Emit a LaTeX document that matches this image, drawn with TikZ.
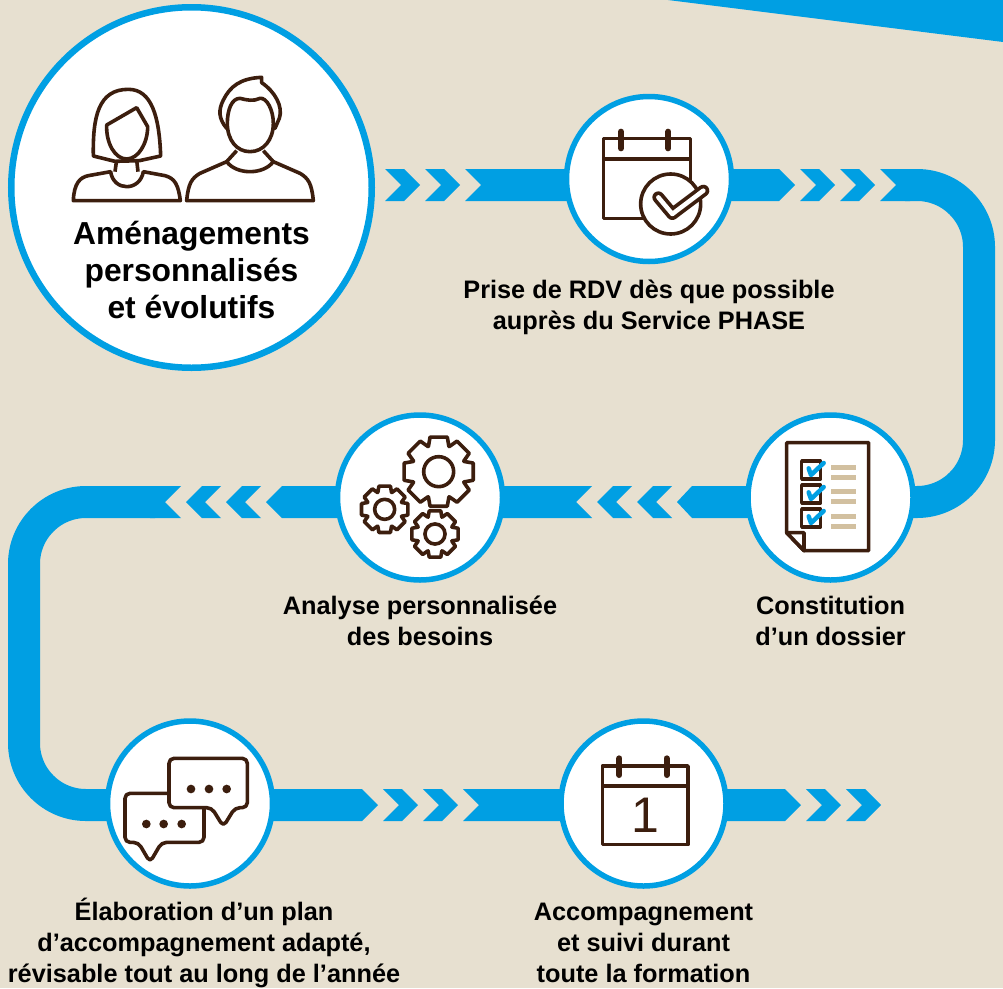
\documentclass[tikz,border=0pt]{standalone}
\usepackage{fontspec}
\setmainfont{Liberation Sans}
\usetikzlibrary{positioning, backgrounds}
\definecolor{paperColor}{RGB}{231, 224, 208}
\definecolor{bandBlue}{RGB}{0, 159, 227}
\definecolor{iconBrown}{RGB}{60, 30, 14}
\definecolor{barTan}{RGB}{210, 192, 160}
\tikzset{
  stepcircle/.style={circle, draw=bandBlue, fill=white, line width=5.5pt, inner sep=0pt, minimum size=165pt},
  steplabel/.style={font=\fontsize{25.3}{31}\selectfont\bfseries, text=black, align=center, inner sep=0pt},
  bandfill/.style={fill=bandBlue, draw=none},
  bandline/.style={draw=bandBlue, line width=32pt, rounded corners=62pt},
  iconline/.style={draw=iconBrown, line width=3.6pt, line join=round, fill=white},
  ringline/.style={draw=iconBrown, line width=6pt, line cap=round},
  chevron/.pic={\fill[bandfill] (0,-16) -- (19,-16) -- (35,0) -- (19,16) -- (0,16) -- (16,0) -- cycle;},
  gearwheel/.pic={
    \draw[iconline] (-22:82) \foreach \ang in {0,45,...,315} { -- (\ang-22:82) -- (\ang-14:107) -- (\ang+14:107) -- (\ang+22:82) } -- cycle;
    \draw[iconline] (0,0) circle (45);
  }
}
\begin{document}
\begin{tikzpicture}[x=1pt, y=-1pt]
\useasboundingbox (0,0) rectangle (1003,988);
% Nodes
\node[stepcircle, line width=6.5pt, minimum size=360.5pt] (main) at (191.5,187.5) {};
\node[stepcircle] (rdv) at (649,179) {};
\node[stepcircle] (dossier) at (830.5,497.5) {};
\node[stepcircle] (analyse) at (420,497.5) {};
\node[stepcircle] (plan) at (190,803.5) {};
\node[stepcircle] (suivi) at (643.5,803.5) {};

% Labels
\node[steplabel, font=\fontsize{31.8}{37}\selectfont\bfseries] (mainlabel) at (191.5,269.5) {Aménagements\\personnalisés\\et évolutifs};
\node[steplabel, below=15.5pt of rdv] (rdvlabel) {Prise de RDV dès que possible\\auprès du Service PHASE};
\node[steplabel, below=13pt of dossier] (dossierlabel) {Constitution\\d’un dossier};
\node[steplabel, below=13pt of analyse] (analyselabel) {Analyse personnalisée\\des besoins};
\node[steplabel, below=9pt of plan, xshift=14pt] (planlabel) {Élaboration d’un plan\\d’accompagnement adapté,\\révisable tout au long de l’année};
\node[steplabel, below=14pt of suivi] (suivilabel) {Accompagnement\\et suivi durant\\toute la formation};

% Paper and bands
\begin{scope}[on background layer]
\fill[paperColor] (0,0) rectangle (1003,988);
\fill[bandfill] (668,0) -- (1003,42) -- (1003,0) -- cycle;
% top row
\foreach \xpos in {385,425,800,840} \pic at (\xpos,185) {chevron};
\fill[bandfill] (465,169) -- (481,185) -- (465,201) -- (rdv |- 0,201) -- (rdv |- 0,169) -- cycle;
\fill[bandfill] (rdv |- 0,169) -- (779,169) -- (795,185) -- (779,201) -- (rdv |- 0,201) -- cycle;
\fill[bandfill] (880,169) -- (896,185) -- (880,201) -- (910,201) -- (910,169) -- cycle;
\draw[bandline] (905,185) -- (979,185) -- (979,502) -- (dossier |- 0,502);
% middle row
\foreach \xpos in {672,632,261,221} \pic[xscale=-1] at (\xpos,502) {chevron};
\fill[bandfill] (dossier |- 0,486) -- (692,486) -- (677,502) -- (692,518) -- (dossier |- 0,518) -- cycle;
\fill[bandfill] (analyse |- 0,486) -- (282,486) -- (266,502) -- (282,518) -- (analyse |- 0,518) -- cycle;
\fill[bandfill] (analyse |- 0,486) -- (592,486) -- (576,502) -- (592,518) -- (analyse |- 0,518) -- cycle;
\fill[bandfill] (181,486) -- (165,502) -- (181,518) -- (150,518) -- (150,486) -- cycle;
\draw[bandline] (155,502) -- (24,502) -- (24,805) -- (plan |- 0,805);
% bottom row
\foreach \xpos in {383,423,806,846} \pic at (\xpos,805) {chevron};
\fill[bandfill] (plan |- 0,789) -- (362,789) -- (378,805) -- (362,821) -- (plan |- 0,821) -- cycle;
\fill[bandfill] (463,789) -- (479,805) -- (463,821) -- (suivi |- 0,821) -- (suivi |- 0,789) -- cycle;
\fill[bandfill] (suivi |- 0,789) -- (785,789) -- (801,805) -- (785,821) -- (suivi |- 0,821) -- cycle;
\end{scope}

% Woman and man
\begin{scope}[shift={(0,60)}, scale=1/3]
\draw[iconline] (280,288) .. controls (278,170) and (295,88) .. (385,88) .. controls (455,88) and (478,170) .. (482,288) -- (418,302) -- (345,304) -- cycle;
\draw[iconline] (320,195) -- (410,143) -- (443,200) .. controls (443,250) and (415,297) .. (380,297) .. controls (345,297) and (318,250) .. (320,195) -- cycle;
\draw[iconline, fill=none] (350,300) -- (345,335) (410,300) -- (414,335);
\draw[iconline] (220,422) .. controls (222,370) and (240,352) .. (265,347) -- (332,335) .. controls (340,395) and (420,395) .. (430,335) -- (495,347) .. controls (525,355) and (535,375) .. (541,422) -- cycle;
\draw[iconline] (680,205) .. controls (655,175) and (655,150) .. (670,120) .. controls (690,80) and (720,55) .. (785,52) -- (785,68) .. controls (825,95) and (850,140) .. (838,175) -- (825,205) -- cycle;
\draw[iconline] (682,190) .. controls (682,150) and (695,115) .. (720,115) .. controls (740,120) and (760,125) .. (780,115) .. controls (800,112) and (820,150) .. (820,190) .. controls (820,240) and (790,275) .. (750,275) .. controls (710,275) and (682,240) .. (682,190) -- cycle;
\draw[iconline, fill=none] (710,272) -- (680,305) (790,272) -- (820,305);
\draw[iconline] (560,422) .. controls (565,370) and (575,355) .. (600,340) -- (680,305) .. controls (710,345) and (790,345) .. (820,305) -- (900,340) .. controls (925,355) and (935,370) .. (940,422) -- cycle;
\end{scope}

% Calendar with check
\begin{scope}[shift={(540,80)}, scale=1/3]
\draw[iconline] (190,175) rectangle (452,415);
\draw[iconline] (190,237) -- (452,237);
\draw[ringline] (243,155) -- (243,205);
\draw[ringline] (385,155) -- (385,205);
\draw[iconline] (392,372) circle (90);
\draw[iconline, line width=12pt, line cap=round] (355,352) -- (397,402) -- (490,332);
\draw[draw=white, line width=4.5pt, line cap=round, line join=round] (355,352) -- (397,402) -- (490,332);
\end{scope}

% Checklist
\begin{scope}[shift={(640,400)}, scale=1/3]
\draw[iconline] (440,128) -- (686,128) -- (686,452) -- (492,452) -- (440,398) -- cycle;
\draw[iconline] (440,398) -- (492,398) -- (492,452) -- cycle;
\foreach \ypos in {183,255,327} {
  \draw[iconline] (485,\ypos) rectangle (541,\ypos+54);
  \draw[draw=bandBlue, line width=4.5pt, line join=round, line cap=round] (506,\ypos+22) -- (513,\ypos+42) -- (551,\ypos+6);
}
\foreach \ypos in {195,225,267,297,342,372} \fill[barTan] (573,\ypos) rectangle (648,\ypos+14.5);
\end{scope}

% Gears
\begin{scope}[shift={(150,400)}, scale=1/3]
\pic[scale=0.333] at (866,215) {gearwheel};
\pic[scale=0.223] at (704,328) {gearwheel};
\pic[scale=0.223] at (855,402) {gearwheel};
\end{scope}

% Speech bubbles
\begin{scope}[shift={(90,710)}, scale=1/3]
\draw[iconline, rounded corners=5pt] (105,250) -- (342,250) -- (342,397) -- (215,397) -- (180,457) -- (145,397) -- (105,397) -- cycle;
\draw[iconline, rounded corners=5pt] (237,145) -- (472,145) -- (472,293) -- (435,293) -- (400,350) -- (365,293) -- (237,293) -- cycle;
\foreach \xpos in {303,357,410} \fill[iconBrown] (\xpos,237) circle (13);
\foreach \xpos in {169,221,275} \fill[iconBrown] (\xpos,342) circle (13);
\end{scope}

% Calendar with date
\begin{scope}[shift={(540,710)}, scale=1/3]
\draw[iconline] (187,168) rectangle (444,404);
\draw[iconline] (187,228) -- (444,228);
\draw[ringline] (238,145) -- (238,195);
\draw[ringline] (380,145) -- (380,195);
\node[text=iconBrown, font=\fontsize{50}{50}\selectfont, inner sep=0pt] (datenum) at (315,315) {1};
\end{scope}
\end{tikzpicture}
\end{document}
